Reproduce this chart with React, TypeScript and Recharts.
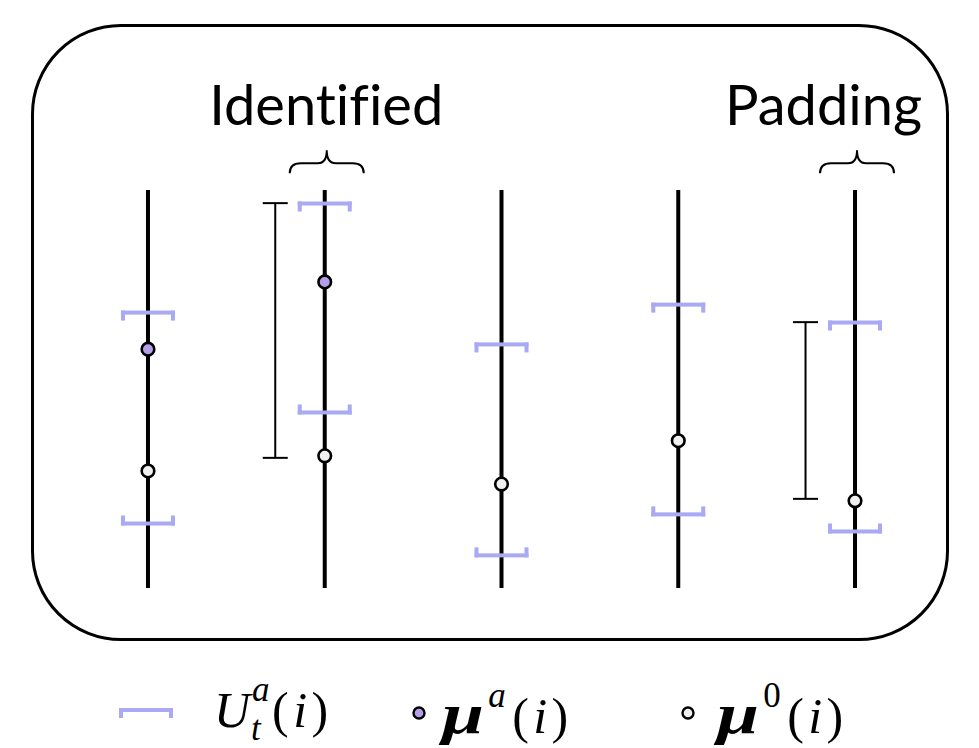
import { ComposedChart, Scatter, ErrorBar, XAxis, YAxis, ReferenceDot, Legend } from 'recharts';

// one vertical axis per coordinate i
const columns = [1, 2, 3, 4, 5];
// U_t^a(i) interval ends
const upperBounds = [6.92, 9.66, 6.12, 7.12, 6.67];
const lowerBounds = [1.62, 4.41, 0.82, 1.85, 1.42];
// mu^0(i)
const baseMeans = [2.94, 3.32, 2.61, 3.7, 2.19];
// mu^a(i), only where it differs
const attackCols = [1, 2];
const attackMeans = [6.0, 7.69];
// thin reference ranges drawn left of some axes
const rangeCols = [2, 5];
const rangeLow = [3.27, 2.24];
const rangeHigh = [9.67, 6.68];
// braces over columns
const groupCols = [2, 5];
const groupLabels = ['Identified', 'Padding'];
const braceLevel = 11.0;

const W = 979;
const H = 748;
const BRACKET = '#a9a9f4';
const PURPLE = '#b69ee9';
const labelShift: Record<string, number> = { Identified: 1.5, Padding: -31.5 };
const rangeShift = -0.28;

const spineData = columns.map((c) => ({ x: c, y: 5, err: 5 }));
const upperData = columns.map((c, i) => ({ x: c, y: upperBounds[i] }));
const lowerData = columns.map((c, i) => ({ x: c, y: lowerBounds[i] }));
const baseData = columns.map((c, i) => ({ x: c, y: baseMeans[i] }));
const attackData = attackCols.map((c, i) => ({ x: c, y: attackMeans[i] }));
const rangeData = rangeCols.map((c, i) => ({
  x: c + rangeShift,
  y: (rangeLow[i] + rangeHigh[i]) / 2,
  err: (rangeHigh[i] - rangeLow[i]) / 2,
}));

const Nothing = () => <g />;

const Bracket = ({ cx, cy, up }: any) => {
  const half = 27;
  const t = 4;
  const tick = 6;
  const y0 = up ? cy - t / 2 - tick : cy - t / 2;
  return (
    <g fill={BRACKET}>
      <rect x={cx - half} y={cy - t / 2} width={half * 2} height={t} />
      <rect x={cx - half} y={y0} width={4} height={t + tick} />
      <rect x={cx + half - 4} y={y0} width={4} height={t + tick} />
    </g>
  );
};

const Dot = ({ cx, cy, fill }: any) => (
  <circle cx={cx} cy={cy} r={6.3} fill={fill} stroke="#000" strokeWidth={2.6} />
);

const Brace = ({ cx, cy, label }: any) => {
  const c = cx + 2;
  const l = c - 37;
  const r = c + 37;
  const mid = cy + 13;
  const bot = cy + 23;
  const d =
    `M${l},${bot} Q${l},${mid} ${l + 11},${mid} L${c - 9},${mid} Q${c},${mid} ${c},${cy} ` +
    `M${r},${bot} Q${r},${mid} ${r - 11},${mid} L${c + 9},${mid} Q${c},${mid} ${c},${cy}`;
  return (
    <g>
      <path d={d} fill="none" stroke="#000" strokeWidth={2} />
      <text
        x={cx + (labelShift[label] ?? 0)}
        y={cy - 25}
        textAnchor="middle"
        fontFamily="Lato, 'Noto Sans', sans-serif"
        fontSize={56}
        fill="#000"
        style={{ fontVariantLigatures: 'none' }}
      >
        {label}
      </text>
    </g>
  );
};

const MathLabel = ({ base, sup, sub }: any) => {
  const greek = base === 'μ';
  return (
    <span style={{ whiteSpace: 'nowrap', display: 'inline-flex', alignItems: 'baseline' }}>
      <span
        style={{
          display: 'inline-block',
          fontWeight: greek ? 700 : 400,
          fontSize: greek ? 58 : 50,
          transform: greek ? 'scaleX(1.3)' : undefined,
          transformOrigin: 'left',
          marginRight: greek ? 14 : 2,
        }}
      >
        {base}
      </span>
      <span style={{ position: 'relative', display: 'inline-block', width: sub ? 20 : 24, height: '1em', fontSize: 35 }}>
        <span style={{ position: 'absolute', left: 0, top: -20, fontStyle: /\d/.test(sup) ? 'normal' : 'italic' }}>{sup}</span>
        {sub ? <span style={{ position: 'absolute', left: -1, top: 19 }}>{sub}</span> : null}
      </span>
      <span style={{ display: 'inline-flex', justifyContent: 'space-between', width: 56 }}>
        <span style={{ fontStyle: 'normal' }}>(</span>
        <span>i</span>
        <span style={{ fontStyle: 'normal' }}>)</span>
      </span>
    </span>
  );
};

const legendItems = [
  { kind: 'bracket', base: 'U', sup: 'a', sub: 't' },
  { kind: 'attack', base: 'μ', sup: 'a' },
  { kind: 'base', base: 'μ', sup: '0' },
];
const legendIconX = [146, 419, 688];
const legendTextX = [214, 442, 717];

const renderLegend = () => (
  <div style={{ position: 'relative', width: W, height: 70 }}>
    {legendItems.map((it, i) => (
      <div key={i}>
        <svg style={{ position: 'absolute', left: legendIconX[i] - 30, top: 20 }} width={60} height={40}>
          {it.kind === 'bracket' ? (
            <Bracket cx={30} cy={20} up={false} />
          ) : (
            <circle cx={30} cy={23} r={5.5} fill={it.kind === 'attack' ? PURPLE : '#f0f0f0'} stroke="#000" strokeWidth={2.4} />
          )}
        </svg>
        <div
          style={{
            position: 'absolute',
            left: legendTextX[i],
            top: 15,
            fontFamily: "'Liberation Serif', 'DejaVu Serif', serif",
            fontStyle: 'italic',
            fontSize: 50,
            lineHeight: 1,
          }}
        >
          <MathLabel base={it.base} sup={it.sup} sub={it.sub} />
        </div>
      </div>
    ))}
  </div>
);

export default function App() {
  return (
    <div style={{ position: 'absolute', left: 0, top: 0, width: W, height: H, background: '#fff' }}>
      <div
        style={{
          position: 'absolute',
          left: 31,
          top: 24,
          width: 918,
          height: 617,
          boxSizing: 'border-box',
          border: '3px solid #000',
          borderRadius: 90,
        }}
      />
      <ComposedChart width={W} height={H} margin={{ top: 190, bottom: 160, left: 59.6, right: 35.6 }}>
        <XAxis type="number" dataKey="x" domain={[0.5, 5.5]} hide />
        <YAxis type="number" domain={[0, 10]} hide />
        <Scatter data={upperData} dataKey="y" shape={(p: any) => <Bracket {...p} up={false} />} isAnimationActive={false} />
        <Scatter data={lowerData} dataKey="y" shape={(p: any) => <Bracket {...p} up={true} />} isAnimationActive={false} />
        <Scatter data={spineData} dataKey="y" shape={Nothing} isAnimationActive={false}>
          <ErrorBar dataKey="err" direction="y" width={0} stroke="#000" strokeWidth={4} isAnimationActive={false} />
        </Scatter>
        <Scatter data={rangeData} dataKey="y" shape={Nothing} isAnimationActive={false}>
          <ErrorBar dataKey="err" direction="y" width={12.5} stroke="#000" strokeWidth={2} isAnimationActive={false} />
        </Scatter>
        <Scatter data={attackData} dataKey="y" shape={(p: any) => <Dot {...p} fill={PURPLE} />} isAnimationActive={false} />
        <Scatter data={baseData} dataKey="y" shape={(p: any) => <Dot {...p} fill="#f0f0f0" />} isAnimationActive={false} />
        {groupCols.map((c, i) => (
          <ReferenceDot
            key={c}
            x={c}
            y={braceLevel}
            ifOverflow="visible"
            shape={(p: any) => <Brace {...p} label={groupLabels[i]} />}
          />
        ))}
        <Legend
          layout="horizontal"
          verticalAlign="middle"
          align="center"
          content={renderLegend}
          wrapperStyle={{ top: 670, left: 0, width: W, height: 70 }}
        />
      </ComposedChart>
    </div>
  );
}
